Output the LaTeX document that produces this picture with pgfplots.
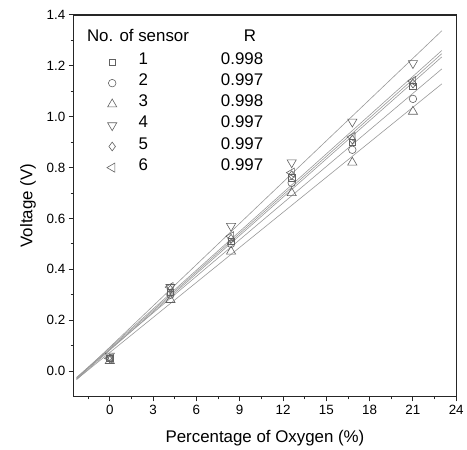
\documentclass[border=0pt]{standalone}
\usepackage{pgfplots}
\pgfplotsset{compat=1.18}
\usepackage{fontspec}
\setmainfont{Liberation Sans}
\definecolor{mk}{gray}{0.38}
\definecolor{ln}{gray}{0.6}
\newcommand\lent[2]{\hspace{22bp}\makebox[125bp][l]{#1\hfill #2}}
\begin{document}
\begin{tikzpicture}
\begin{axis}[
  scale only axis, width=384bp, height=383bp,
  xmin=-2.5, xmax=24, ymin=-0.1, ymax=1.4,
  xtick={0,3,6,9,12,15,18,21,24}, minor x tick num=1,
  ytick={0,0.2,0.4,0.6,0.8,1.0,1.2,1.4}, minor y tick num=1,
  extra x ticks={-1.5}, extra x tick labels={}, extra x tick style={major tick length=3bp},
  tick align=outside, xtick pos=left, ytick pos=left,
  major tick length=5bp, minor tick length=3bp,
  axis line style={line width=1.2bp, black!85},
  tick style={line width=0.9bp, black!85},
  yticklabel style={/pgf/number format/.cd, fixed, fixed zerofill, precision=1},
  /pgf/number format/assume math mode=true,
  ticklabel style={font=\fontsize{13.5}{16}\selectfont},
  label style={font=\fontsize{17}{20}\selectfont},
  xlabel={Percentage of Oxygen (\%)}, ylabel={Voltage (V)},
  xlabel style={yshift=-1bp}, ylabel style={yshift=4bp},
  legend style={at={(axis cs:-0.42,1.265)}, anchor=north west, draw=none, fill=none,
    font=\fontsize{17}{20}\selectfont, row sep=0bp,
    nodes={inner sep=0pt, text height=13.2bp, text depth=8bp}},
  legend cell align=left,
  legend image code/.code={\draw[#1] plot coordinates {(5bp,0bp)};},
]
% fit lines
\addplot[ln, line width=0.6bp, forget plot] coordinates {(-2.3,-0.0334) (23,1.2350)};
\addplot[ln, line width=0.6bp, forget plot] coordinates {(-2.3,-0.0255) (23,1.1878)};
\addplot[ln, line width=0.6bp, forget plot] coordinates {(-2.3,-0.0327) (23,1.1290)};
\addplot[ln, line width=0.6bp, forget plot] coordinates {(-2.3,-0.0306) (23,1.3377)};
\addplot[ln, line width=0.6bp, forget plot] coordinates {(-2.3,-0.0294) (23,1.2476)};
\addplot[ln, line width=0.6bp, forget plot] coordinates {(-2.3,-0.0254) (23,1.2602)};
% data
\addplot[only marks, mark=square, mark size=3.2bp, mk, mark options={line width=0.6bp}]
  coordinates {(0,0.05) (4.2,0.31) (8.4,0.51) (12.6,0.76) (16.8,0.90) (21,1.12)};
\addlegendentry{\lent{1}{0.998}}
\addplot[only marks, mark=o, mark size=3.8bp, mk, mark options={line width=0.6bp}]
  coordinates {(0,0.05) (4.2,0.30) (8.4,0.50) (12.6,0.74) (16.8,0.87) (21,1.07)};
\addlegendentry{\lent{2}{0.997}}
\addplot[only marks, mark=triangle, mark size=5.3bp, mk, mark options={line width=0.6bp}]
  coordinates {(0,0.04) (4.2,0.28) (8.4,0.47) (12.6,0.70) (16.8,0.82) (21,1.02)};
\addlegendentry{\lent{3}{0.998}}
\addplot[only marks, mark=triangle, mark size=5.3bp, mk, mark options={line width=0.6bp, rotate=180}]
  coordinates {(0,0.06) (4.2,0.33) (8.4,0.57) (12.6,0.82) (16.8,0.98) (21,1.21)};
\addlegendentry{\lent{4}{0.997}}
\addplot[only marks, mark=diamond, mark size=4.4bp, mk, mark options={line width=0.6bp}]
  coordinates {(0,0.05) (4.2,0.32) (8.4,0.52) (12.6,0.77) (16.8,0.91) (21,1.13)};
\addlegendentry{\lent{5}{0.997}}
\addplot[only marks, mark=triangle, mark size=5.3bp, mk, mark options={line width=0.6bp, rotate=90}]
  coordinates {(0,0.05) (4.2,0.33) (8.4,0.53) (12.6,0.78) (16.8,0.92) (21,1.14)};
\addlegendentry{\lent{6}{0.997}}
\node[anchor=west, font=\fontsize{17}{20}\selectfont, inner sep=0pt] at (axis cs:-1.59,1.318) {No. of sensor};
\node[anchor=east, font=\fontsize{17}{20}\selectfont, inner sep=0pt] at (axis cs:10.14,1.318) {R};
\coordinate (bl) at (rel axis cs:0,0);
\coordinate (tr) at (rel axis cs:1,1);
\end{axis}
\path ([shift={(-74bp,-52bp)}]bl) rectangle ([shift={(9bp,15bp)}]tr);
\end{tikzpicture}
\end{document}
